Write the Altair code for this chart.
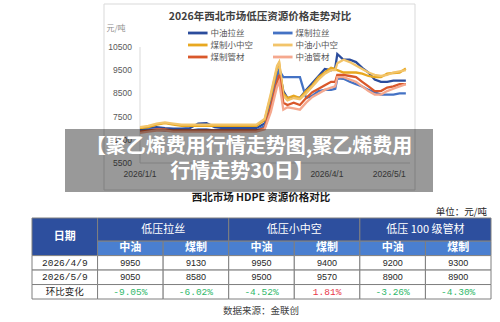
import altair as alt
import pandas as pd

# ---------------- data ----------------
dates = ["2026-01-01", "2026-01-05", "2026-01-09", "2026-01-13", "2026-01-17", "2026-01-21",
         "2026-01-25", "2026-01-29", "2026-02-02", "2026-02-06", "2026-02-10", "2026-02-14",
         "2026-02-18", "2026-02-22", "2026-02-26", "2026-03-02", "2026-03-05", "2026-03-08",
         "2026-03-09", "2026-03-11", "2026-03-13", "2026-03-16", "2026-03-19", "2026-03-22",
         "2026-03-25", "2026-03-28", "2026-03-31", "2026-04-03", "2026-04-05", "2026-04-06",
         "2026-04-09", "2026-04-12", "2026-04-15", "2026-04-18", "2026-04-21", "2026-04-24",
         "2026-04-27", "2026-04-30", "2026-05-03", "2026-05-06", "2026-05-09"]

zy_lasi = [6950, 7000, 7050, 7000, 6980, 6980, 7000, 7200, 7220, 7050, 7000, 7000, 7000, 7000, 7000,
           7200, 8200, 9300, 9500, 8600, 8300, 8350, 8300, 8650, 8950, 9250, 9550, 9500, 9600, 10200,
           9950, 9950, 9850, 9600, 9400, 9100, 9000, 9000, 9050, 9050, 9050]
mz_lasi = [6900, 6950, 6950, 6900, 6900, 6900, 6900, 6950, 6950, 6900, 6900, 6900, 6900, 6900, 6900,
           7100, 8000, 9300, 9500, 9200, 9200, 9200, 9200, 8300, 8400, 8600, 8650, 8650, 8700, 9150,
           9130, 9000, 8900, 8800, 8650, 8550, 8450, 8450, 8450, 8500, 8500]
mz_xzk = [7000, 7050, 7150, 7220, 7150, 7100, 7100, 7100, 7100, 7100, 7100, 7100, 7100, 7100, 7100,
          7350, 8400, 9600, 9800, 8500, 8300, 8400, 8300, 8600, 8850, 9200, 9400, 9600, 9550, 9500,
          9400, 9400, 9400, 9350, 9250, 9200, 9200, 9350, 9380, 9400, 9570]
zy_xzk = [7050, 7100, 7200, 7250, 7200, 7150, 7150, 7150, 7150, 7150, 7150, 7150, 7150, 7150, 7150,
          7400, 8500, 9700, 9850, 8400, 8200, 8300, 8250, 8500, 8800, 9100, 9350, 9500, 9500, 9800,
          9950, 9850, 9700, 9550, 9400, 9300, 9250, 9300, 9400, 9450, 9500]
mz_gc = [6850, 6900, 6950, 6950, 6900, 6900, 6900, 6900, 6900, 6900, 6900, 6900, 6900, 6900, 6900,
         7000, 7900, 9000, 9300, 8100, 8000, 8100, 8000, 8300, 8550, 8700, 8850, 9000, 9000, 9300,
         9300, 9250, 9200, 9000, 8800, 8600, 8600, 8750, 8800, 8900, 8900]
zy_gc = [6800, 6850, 6900, 6900, 6850, 6850, 6850, 6850, 6850, 6850, 6850, 6850, 6850, 6850, 6850,
         6950, 7700, 8800, 9000, 7800, 7900, 7850, 7800, 8100, 8350, 8500, 8650, 8750, 8800, 9200,
         9200, 9100, 9000, 8800, 8600, 8450, 8450, 8600, 8700, 8800, 8900]

series_names = ["中油拉丝", "煤制拉丝", "煤制小中空", "中油小中空", "煤制管材", "中油管材"]
series_values = [zy_lasi, mz_lasi, mz_xzk, zy_xzk, mz_gc, zy_gc]
series_colors = ["#2b4c9c", "#4472c4", "#e8a820", "#f2c46a", "#d9582b", "#f5a88e"]

chart_title = "2026年西北市场低压资源价格走势对比"
unit_label = "元/吨"
y_ticks = [5500, 6500, 7500, 8500, 9500, 10500]
x_ticks = ["2026-01-01", "2026-04-01", "2026-05-01"]
x_tick_labels = ["2026/1/1", "2026/4/1", "2026/5/1"]

banner_lines = ["【聚乙烯费用行情走势图,聚乙烯费用", "行情走势30日】"]

table_title = "西北市场 HDPE 资源价格对比"
table_unit = "单位：元/吨"
table_source = "数据来源：金联创"
date_head = "日期"
groups = ["低压拉丝", "低压小中空", "低压 100 级管材"]
subheads = ["中油", "煤制"]
row_labels = ["2026/4/9", "2026/5/9", "环比变化"]
prices_apr = [9950, 9130, 9950, 9400, 9200, 9300]
prices_may = [9050, 8580, 9500, 9570, 8900, 8900]
changes = ["-9.05%", "-6.02%", "-4.52%", "1.81%", "-3.26%", "-4.30%"]

# ---------------- styling ----------------
FONT = "Noto Sans CJK SC"
MONO = "Liberation Mono, Noto Sans CJK SC"
SANS = "Liberation Sans, Noto Sans CJK SC"
DARK_BLUE = "#2d4f9e"
LIGHT_BLUE = "#4a7fd0"
GREEN = "#2fb86a"
RED = "#e8374b"

# ---------------- line chart ----------------
day0 = pd.Timestamp("2026-01-01")
days = [(pd.Timestamp(d) - day0).days for d in dates]
rows = []
for name, vals in zip(series_names, series_values):
    for d, v in zip(days, vals):
        rows.append({"day": d, "value": v, "series": name})
line_df = pd.DataFrame(rows)

XS = alt.Scale(domain=[0, 130], range=[140, 410], zero=False, nice=False)
YS = alt.Scale(domain=[5500, 10500], range=[163, 47], zero=False, nice=False)
CS = alt.Scale(domain=series_names, range=series_colors)

one = pd.DataFrame({"k": [0]})

frame = alt.Chart(one).mark_rect(fillOpacity=0, stroke="#d9d9d9", strokeWidth=1).encode(
    x=alt.value(104), x2=alt.value(415), y=alt.value(4), y2=alt.value(190))

title = alt.Chart(pd.DataFrame({"t": [chart_title]})).mark_text(
    font=FONT, fontSize=10.5, fontWeight="bold", color="#404040", baseline="middle").encode(
    x=alt.value(260), y=alt.value(17), text="t:N")

unit = alt.Chart(pd.DataFrame({"t": [unit_label]})).mark_text(
    font=FONT, fontSize=8, color="#8c8c8c", baseline="middle").encode(
    x=alt.value(116), y=alt.value(29), text="t:N")

axis_df = pd.DataFrame({"d0": [0], "d1": [130], "v0": [5500], "v1": [10500]})
yaxis = alt.Chart(axis_df).mark_rule(color="#d9d9d9", strokeWidth=1).encode(
    x=alt.X("d0:Q", scale=XS, axis=None),
    y=alt.Y("v0:Q", scale=YS, axis=None), y2="v1:Q")
xaxis = alt.Chart(axis_df).mark_rule(color="#d9d9d9", strokeWidth=1).encode(
    x=alt.X("d0:Q", scale=XS, axis=None), x2="d1:Q",
    y=alt.Y("v0:Q", scale=YS, axis=None))

ytick_df = pd.DataFrame({"v": y_ticks, "day": [0] * len(y_ticks)})
ylabels = alt.Chart(ytick_df).mark_text(
    align="right", baseline="middle", dx=-8, font=SANS, fontSize=8.5, color="#595959").encode(
    x=alt.X("day:Q", scale=XS, axis=None),
    y=alt.Y("v:Q", scale=YS, axis=None),
    text=alt.Text("v:Q", format="d"))

xtick_df = pd.DataFrame({"day": [(pd.Timestamp(d) - day0).days for d in x_ticks],
                         "lab": x_tick_labels, "v": [5500] * len(x_ticks)})
xlabels = alt.Chart(xtick_df).mark_text(
    align="center", baseline="middle", dy=11, font=SANS, fontSize=8.5, color="#595959").encode(
    x=alt.X("day:Q", scale=XS, axis=None),
    y=alt.Y("v:Q", scale=YS, axis=None),
    text="lab:N")

lines = alt.Chart(line_df).mark_line(strokeWidth=2.3, clip=False).encode(
    x=alt.X("day:Q", scale=XS, axis=None),
    y=alt.Y("value:Q", scale=YS, axis=None),
    color=alt.Color("series:N", scale=CS, legend=None))

# manual legend (2 columns x 3 rows)
leg_df = pd.DataFrame({"series": series_names,
                       "col": [i % 2 for i in range(len(series_names))],
                       "row": [i // 2 for i in range(len(series_names))]})
leg_df["col2"] = leg_df["col"] + 0.23
LXS = alt.Scale(domain=[0, 1], range=[188, 273], zero=False, nice=False)
LYS = alt.Scale(domain=[0, 2], range=[33, 57], zero=False, nice=False)
leg_sym = alt.Chart(leg_df).mark_rule(strokeWidth=2.8).encode(
    x=alt.X("col:Q", scale=LXS, axis=None), x2="col2:Q",
    y=alt.Y("row:Q", scale=LYS, axis=None),
    color=alt.Color("series:N", scale=CS, legend=None))
leg_txt = alt.Chart(leg_df).mark_text(
    align="left", baseline="middle", dx=3, font=FONT, fontSize=8.5, color="#595959").encode(
    x=alt.X("col2:Q", scale=LXS, axis=None),
    y=alt.Y("row:Q", scale=LYS, axis=None),
    text="series:N")

# ---------------- banner ----------------
banner = alt.Chart(one).mark_rect(color="black", opacity=0.4).encode(
    x=alt.value(65), x2=alt.value(433), y=alt.value(129), y2=alt.value(192))
banner_t1 = alt.Chart(pd.DataFrame({"t": [banner_lines[0]]})).mark_text(
    font=FONT, fontSize=20, fontWeight="bold", color="white", baseline="middle").encode(
    x=alt.value(249), y=alt.value(147), text="t:N")
banner_t2 = alt.Chart(pd.DataFrame({"t": [banner_lines[1]]})).mark_text(
    font=FONT, fontSize=20, fontWeight="bold", color="white", baseline="middle").encode(
    x=alt.value(242), y=alt.value(172), text="t:N")

# ---------------- table ----------------
row_edges = [0, 1.6, 2.6, 3.6, 4.6, 5.6]
cells = []
cells.append(dict(c0=0, c1=1, r0=row_edges[0], r1=row_edges[2], fill=DARK_BLUE,
                  text=date_head, tc="white", kind="bold"))
for i, g in enumerate(groups):
    cells.append(dict(c0=1 + 2 * i, c1=3 + 2 * i, r0=row_edges[0], r1=row_edges[1],
                      fill=DARK_BLUE, text=g, tc="white", kind="head"))
for j in range(6):
    cells.append(dict(c0=1 + j, c1=2 + j, r0=row_edges[1], r1=row_edges[2],
                      fill=LIGHT_BLUE, text=subheads[j % 2], tc="white", kind="bold"))
data_rows = [[str(v) for v in prices_apr], [str(v) for v in prices_may], changes]
for r, (lab, vals) in enumerate(zip(row_labels, data_rows)):
    r0, r1 = row_edges[2 + r], row_edges[3 + r]
    cells.append(dict(c0=0, c1=1, r0=r0, r1=r1, fill="white", text=lab,
                      tc="#262626", kind="mono"))
    for j, v in enumerate(vals):
        if r == 2:
            tc = RED if not v.startswith("-") else GREEN
            kind = "mono"
        else:
            tc = "#262626"
            kind = "num"
        cells.append(dict(c0=1 + j, c1=2 + j, r0=r0, r1=r1, fill="white", text=v,
                          tc=tc, kind=kind))
cell_df = pd.DataFrame(cells)
cell_df["cx"] = (cell_df["c0"] + cell_df["c1"]) / 2
cell_df["cy"] = (cell_df["r0"] + cell_df["r1"]) / 2

TXS = alt.Scale(domain=[0, 7], range=[32, 491], zero=False, nice=False)
TYS = alt.Scale(domain=[0, 5.6], range=[218, 299], zero=False, nice=False)

tbl_rect = alt.Chart(cell_df).mark_rect(stroke="#7f7f7f", strokeWidth=1).encode(
    x=alt.X("c0:Q", scale=TXS, axis=None), x2="c1:Q",
    y=alt.Y("r0:Q", scale=TYS, axis=None), y2="r1:Q",
    fill=alt.Fill("fill:N", scale=None))


def tbl_text(kind, font, size, weight="normal"):
    return alt.Chart(cell_df[cell_df["kind"] == kind]).mark_text(
        font=font, fontSize=size, fontWeight=weight, baseline="middle", align="center").encode(
        x=alt.X("cx:Q", scale=TXS, axis=None),
        y=alt.Y("cy:Q", scale=TYS, axis=None),
        text="text:N",
        color=alt.Color("tc:N", scale=None))


t_head = tbl_text("head", FONT, 11)
t_bold = tbl_text("bold", FONT, 11, "bold")
t_mono = tbl_text("mono", MONO, 9.5)
t_num = tbl_text("num", SANS, 9)

tbl_title = alt.Chart(pd.DataFrame({"t": [table_title]})).mark_text(
    font=FONT, fontSize=10.5, fontWeight="bold", color="#1a1a1a", baseline="middle").encode(
    x=alt.value(261), y=alt.value(198), text="t:N")
tbl_unit = alt.Chart(pd.DataFrame({"t": [table_unit]})).mark_text(
    font=FONT, fontSize=9.5, color="#262626", baseline="middle", align="right").encode(
    x=alt.value(487), y=alt.value(212), text="t:N")
tbl_src = alt.Chart(pd.DataFrame({"t": [table_source]})).mark_text(
    font=FONT, fontSize=9.5, color="#404040", baseline="middle").encode(
    x=alt.value(261), y=alt.value(311), text="t:N")

chart = alt.layer(
    frame, title, unit, yaxis, xaxis, ylabels, xlabels, lines, leg_sym, leg_txt,
    banner, banner_t1, banner_t2,
    tbl_title, tbl_unit, tbl_rect, t_head, t_bold, t_mono, t_num, tbl_src
).resolve_scale(
    x="independent", y="independent", color="independent", fill="independent"
).properties(
    width=500, height=322, autosize=alt.AutoSizeParams(type="none"), padding=0,
    background="white"
).configure_view(stroke=None)

chart.save("out.html", embed_options={"renderer": "svg", "actions": False})
